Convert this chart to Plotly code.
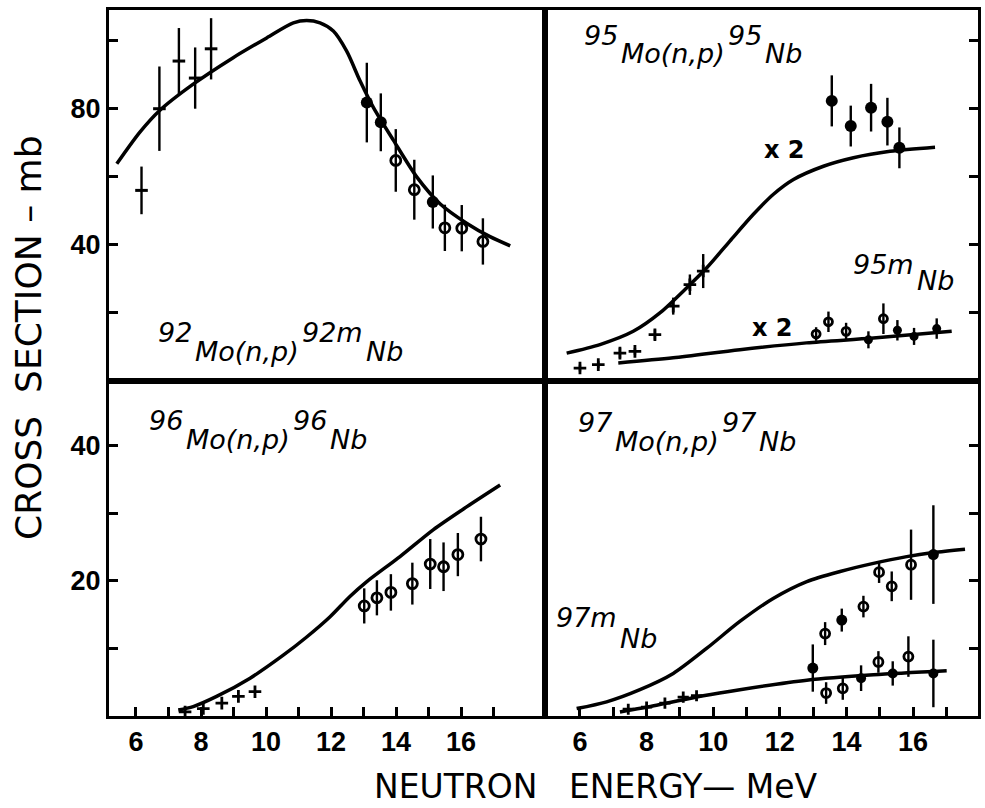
import plotly.graph_objects as go

# ---------------- data ----------------
# Panel A: 92Mo(n,p)92mNb
a_curve_E = [5.41, 6.12, 6.72, 7.76, 8.99, 10.02, 10.84, 11.25, 11.66, 12.07, 12.48, 12.89, 13.30, 13.92, 14.64, 15.35, 16.18, 16.89, 17.51]
a_curve_v = [63.8, 73.1, 79.4, 87.2, 95.0, 100.8, 105.2, 105.9, 105.2, 102.8, 96.9, 88.2, 80.4, 70.7, 59.9, 52.1, 46.3, 42.4, 39.7]
a_cross_E = [6.17, 6.72, 7.32, 7.82, 8.31]
a_cross_v = [56.0, 80.0, 94.0, 89.0, 97.6]
a_cross_err = [7.0, 12.4, 9.7, 9.0, 9.0]
a_filled_E = [13.10, 13.53, 15.13]
a_filled_v = [81.8, 76.0, 52.6]
a_filled_err = [11.7, 8.5, 7.8]
a_open_E = [13.99, 14.56, 15.50, 16.02, 16.67]
a_open_v = [64.8, 56.2, 45.0, 44.9, 41.0]
a_open_err = [9.2, 8.8, 6.8, 6.8, 6.8]

# Panel B: 95Mo(n,p)95Nb (x2) and 95mNb (x2)
b_curve_E = [5.60, 6.60, 7.60, 8.40, 9.10, 9.80, 10.50, 11.20, 11.80, 12.41, 13.31, 14.21, 15.31, 16.66]
b_curve_v = [8.2, 10.7, 14.6, 20.0, 26.4, 33.2, 41.1, 48.9, 54.8, 59.2, 63.1, 65.6, 67.5, 68.7]
b_cross_E = [6.00, 6.55, 7.20, 7.65, 8.25, 8.80, 9.30, 9.70]
b_cross_v = [3.8, 4.8, 8.2, 8.7, 13.6, 22.0, 28.3, 32.3]
b_cross_err = [1.0, 1.0, 1.5, 1.0, 1.5, 2.5, 3.0, 5.0]
b_filled_E = [13.56, 14.13, 14.74, 15.23, 15.59]
b_filled_v = [82.3, 74.9, 80.3, 76.2, 68.5]
b_filled_err = [7.5, 6.0, 7.0, 7.0, 6.0]
bm_curve_E = [7.15, 8.80, 10.80, 12.80, 14.81, 17.16]
bm_curve_v = [5.3, 6.8, 9.2, 11.2, 12.6, 14.6]
bm_open_E = [13.09, 13.46, 13.99, 15.11]
bm_open_v = [13.8, 17.4, 14.6, 18.3]
bm_open_err = [2.0, 3.0, 2.5, 4.5]
bm_filled_E = [14.66, 15.53, 16.03, 16.71]
bm_filled_v = [12.1, 14.9, 13.1, 15.4]
bm_filled_err = [2.5, 3.0, 2.5, 3.0]

# Panel C: 96Mo(n,p)96Nb
c_curve_E = [7.30, 7.76, 8.48, 9.51, 10.53, 11.25, 11.97, 12.58, 13.10, 14.12, 15.15, 16.18, 17.20]
c_curve_v = [0.9, 1.4, 2.9, 5.6, 9.0, 11.7, 14.7, 17.7, 19.9, 23.6, 27.6, 31.0, 34.2]
c_cross_E = [7.51, 8.07, 8.64, 9.15, 9.66]
c_cross_v = [0.6, 1.1, 1.9, 2.9, 3.6]
c_open_E = [13.02, 13.41, 13.84, 14.50, 15.05, 15.46, 15.90, 16.61]
c_open_v = [16.3, 17.5, 18.3, 19.6, 22.5, 22.1, 23.9, 26.2]
c_open_err = [2.6, 2.6, 2.7, 3.1, 3.7, 3.6, 3.2, 3.3]

# Panel D: 97Mo(n,p)97Nb and 97mNb
d_curve_E = [5.90, 6.80, 7.80, 8.80, 9.80, 10.80, 11.80, 12.81, 13.81, 14.81, 15.81, 16.61, 17.56]
d_curve_v = [1.1, 2.1, 3.9, 6.3, 10.0, 14.0, 17.4, 19.9, 21.4, 22.6, 23.6, 24.2, 24.7]
dm_curve_E = [7.20, 8.30, 9.70, 10.80, 12.81, 14.81, 17.01]
dm_curve_v = [0.6, 1.6, 3.0, 3.9, 5.3, 6.1, 6.7]
d_cross_E = [7.45, 8.00, 8.55, 9.10, 9.50]
d_cross_v = [1.0, 1.3, 1.9, 2.8, 3.0]
d_filled_E = [12.99, 13.86, 16.61]
d_filled_v = [7.1, 14.2, 23.9]
d_filled_err = [3.5, 1.7, 7.3]
d_open_E = [13.36, 14.51, 14.98, 15.36, 15.94]
d_open_v = [12.2, 16.2, 21.3, 19.2, 22.4]
d_open_err = [1.7, 1.6, 1.6, 2.2, 5.2]
dm_open_E = [13.39, 13.89, 14.96, 15.86]
dm_open_v = [3.4, 4.1, 8.0, 8.8]
dm_open_err = [1.6, 1.7, 1.6, 3.0]
dm_filled_E = [14.44, 15.39, 16.61]
dm_filled_v = [5.6, 6.3, 6.3]
dm_filled_err = [1.9, 1.8, 5.0]

x_major_ticks = [6, 8, 10, 12, 14, 16]
x_major_text = ["6", "8", "10", "12", "14", "16"]
x_minor_ticks = [7, 9, 11, 13, 15, 17]
top_major_ticks = [40, 80]
top_major_text = ["40", "80"]
top_minor_ticks = [20, 60, 100]
top_all_ticks = [20, 40, 60, 80, 100]
bot_major_ticks = [20, 40]
bot_major_text = ["20", "40"]
bot_minor_ticks = [10, 30]
bot_all_ticks = [10, 20, 30, 40]

# ---------------- figure ----------------
fig = go.Figure()
BLACK = "black"


def curve(E, v, xa, ya):
    fig.add_trace(go.Scatter(x=E, y=v, mode="lines", xaxis=xa, yaxis=ya,
                             line=dict(color=BLACK, width=3.5, shape="spline", smoothing=0.8),
                             showlegend=False, hoverinfo="skip"))


def pts(E, v, err, xa, ya, kind, size=None):
    if kind == "filled":
        marker = dict(symbol="circle", size=size or 12, color=BLACK)
    elif kind == "open":
        marker = dict(symbol="circle-open", size=size or 10, color=BLACK, line=dict(width=2.8, color=BLACK))
    elif kind == "dash":
        marker = dict(symbol="line-ew-open", size=size or 9, color=BLACK, line=dict(width=3, color=BLACK))
    else:
        marker = dict(symbol="cross-thin-open", size=size or 9, color=BLACK, line=dict(width=2.8, color=BLACK))
    tr = dict(x=E, y=v, mode="markers", xaxis=xa, yaxis=ya, marker=marker,
              showlegend=False, hoverinfo="skip")
    if err is not None:
        tr["error_y"] = dict(type="data", array=err, visible=True, color=BLACK, thickness=2.4, width=0)
    fig.add_trace(go.Scatter(**tr))


# Panel A
curve(a_curve_E, a_curve_v, "x", "y")
pts(a_cross_E, a_cross_v, a_cross_err, "x", "y", "dash")
pts(a_filled_E, a_filled_v, a_filled_err, "x", "y", "filled")
pts(a_open_E, a_open_v, a_open_err, "x", "y", "open")

# Panel B
curve(b_curve_E, b_curve_v, "x2", "y2")
curve(bm_curve_E, bm_curve_v, "x2", "y2")
pts(b_cross_E, b_cross_v, b_cross_err, "x2", "y2", "cross")
pts(b_filled_E, b_filled_v, b_filled_err, "x2", "y2", "filled")
pts(bm_open_E, bm_open_v, bm_open_err, "x2", "y2", "open", 8)
pts(bm_filled_E, bm_filled_v, bm_filled_err, "x2", "y2", "filled", 9)

# Panel C
curve(c_curve_E, c_curve_v, "x3", "y3")
pts(c_cross_E, c_cross_v, None, "x3", "y3", "cross")
pts(c_open_E, c_open_v, c_open_err, "x3", "y3", "open")

# Panel D
curve(d_curve_E, d_curve_v, "x4", "y4")
curve(dm_curve_E, dm_curve_v, "x4", "y4")
pts(d_cross_E, d_cross_v, None, "x4", "y4", "cross", 8)
pts(d_filled_E, d_filled_v, d_filled_err, "x4", "y4", "filled", 11)
pts(d_open_E, d_open_v, d_open_err, "x4", "y4", "open", 9)
pts(dm_open_E, dm_open_v, dm_open_err, "x4", "y4", "open", 9)
pts(dm_filled_E, dm_filled_v, dm_filled_err, "x4", "y4", "filled", 10)

# ---------------- layout ----------------
W, H = 985, 808
L, R, T, B = 109, 7, 10, 92
pw, ph = W - L - R, H - T - B
xsplit = (545 - L) / pw
ysplit = (716 - 381) / ph

tickfont = dict(family="Liberation Sans Narrow, Liberation Sans, Arial, sans-serif", size=27, color=BLACK, weight="bold")
common = dict(showline=True, linewidth=3, linecolor=BLACK, mirror=True, showgrid=False, zeroline=False,
              tickcolor=BLACK, tickwidth=3, ticklen=9, tickfont=tickfont)


def minor(vals):
    return dict(tickvals=vals, ticks="inside", ticklen=9, tickwidth=3, tickcolor=BLACK, showgrid=False)


LEFT_RANGE = [5.17, 18.58]
RIGHT_RANGE = [4.95, 17.95]
TOP_RANGE = [0, 109]
BOT_RANGE = [0, 49.6]

fig.update_layout(
    width=W, height=H, autosize=False,
    margin=dict(l=L, r=R, t=T, b=B, pad=0),
    paper_bgcolor="white", plot_bgcolor="white",
    xaxis=dict(domain=[0, xsplit], range=LEFT_RANGE, anchor="y", ticks="", tickvals=[], showticklabels=False, **common),
    yaxis=dict(domain=[ysplit, 1], range=TOP_RANGE, anchor="x", ticks="inside",
               tickvals=top_major_ticks, ticktext=top_major_text, minor=minor(top_minor_ticks), **common),
    xaxis2=dict(domain=[xsplit, 1], range=RIGHT_RANGE, anchor="y2", ticks="", tickvals=[], showticklabels=False, **common),
    yaxis2=dict(domain=[ysplit, 1], range=TOP_RANGE, anchor="x2", side="right", ticks="inside",
                tickvals=[], showticklabels=False, minor=minor(top_all_ticks), **common),
    xaxis3=dict(domain=[0, xsplit], range=LEFT_RANGE, anchor="y3", ticks="inside",
                tickvals=x_major_ticks, ticktext=x_major_text, minor=minor(x_minor_ticks), **common),
    yaxis3=dict(domain=[0, ysplit], range=BOT_RANGE, anchor="x3", ticks="inside",
                tickvals=bot_major_ticks, ticktext=bot_major_text, minor=minor(bot_minor_ticks), **common),
    xaxis4=dict(domain=[xsplit, 1], range=RIGHT_RANGE, anchor="y4", ticks="inside",
                tickvals=x_major_ticks, ticktext=x_major_text, minor=minor(x_minor_ticks), **common),
    yaxis4=dict(domain=[0, ysplit], range=BOT_RANGE, anchor="x4", side="right", ticks="inside",
                tickvals=[], showticklabels=False, minor=minor(bot_all_ticks), **common),
)

# ---- reaction labels: raised mass numbers drawn as separate pieces ----
LAB_SIZE = 27
# DejaVu Sans advance widths (em) used to place the pieces side by side
CHAR_W = {"0": .636, "1": .636, "2": .636, "3": .636, "4": .636, "5": .636, "6": .636, "7": .636,
          "8": .636, "9": .636, "M": .863, "o": .612, "(": .390, "n": .634, ",": .318, "p": .635,
          ")": .390, "N": .748, "b": .635, "m": .974}


def text_w(s, size):
    return sum(CHAR_W.get(c, .6) for c in s) * size


def reaction_label(xref, yref, x, y, pieces, raise_px):
    shift = 0.0
    for txt, raised in pieces:
        fig.add_annotation(x=x, y=y, xref=xref, yref=yref, text="<i>" + txt + "</i>",
                           showarrow=False, xanchor="left", yanchor="middle",
                           xshift=shift, yshift=raise_px if raised else 0,
                           font=dict(family="DejaVu Sans, sans-serif", size=LAB_SIZE, color=BLACK))
        shift += text_w(txt, LAB_SIZE) + 3


reaction_label("x", "y", 6.62, 8.8, [("92", True), ("Mo(n,p)", False), ("92m", True), ("Nb", False)], 19)
reaction_label("x2", "y2", 6.05, 96.1, [("95", True), ("Mo(n,p)", False), ("95", True), ("Nb", False)], 18)
reaction_label("x2", "y2", 14.15, 29.4, [("95m", True), ("Nb", False)], 16)
reaction_label("x3", "y3", 6.33, 40.9, [("96", True), ("Mo(n,p)", False), ("96", True), ("Nb", False)], 19)
reaction_label("x4", "y4", 5.88, 40.7, [("97", True), ("Mo(n,p)", False), ("97", True), ("Nb", False)], 19)
reaction_label("x4", "y4", 5.22, 11.5, [("97m", True), ("Nb", False)], 21)

for (xx, yy) in [(12.13, 67.9), (11.77, 15.6)]:
    fig.add_annotation(x=xx, y=yy, xref="x2", yref="y2", text="<b>x 2</b>", showarrow=False,
                       font=dict(family="DejaVu Sans, sans-serif", size=24, color=BLACK))

fig.add_annotation(x=(28 - L) / pw, y=(716 - 338) / ph, xref="paper", yref="paper",
                   text="CROSS\u00a0\u00a0SECTION\u00a0–\u00a0mb", textangle=-90, showarrow=False,
                   xanchor="center", yanchor="middle",
                   font=dict(family="DejaVu Sans, sans-serif", size=36, color=BLACK))
fig.add_annotation(x=(596 - L) / pw, y=(716 - 786) / ph, xref="paper", yref="paper",
                   text="NEUTRON\u00a0\u00a0\u00a0ENERGY—\u00a0MeV", showarrow=False,
                   xanchor="center", yanchor="middle",
                   font=dict(family="DejaVu Sans, sans-serif", size=33, color=BLACK))

fig.write_html("out.html")
